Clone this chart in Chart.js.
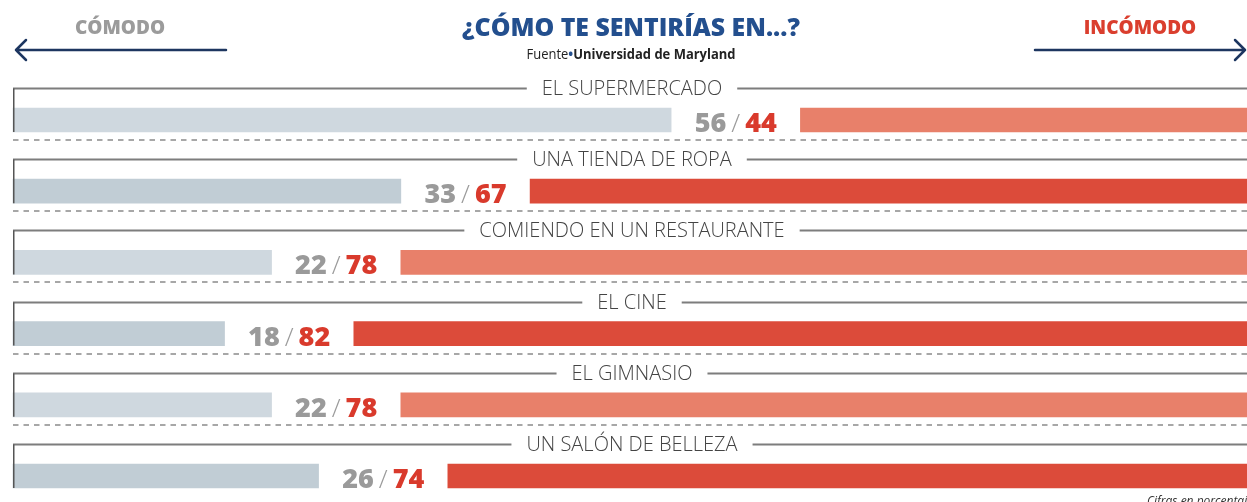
<!DOCTYPE html>
<html lang="es">
<head>
<meta charset="utf-8">
<title>¿Cómo te sentirías en...?</title>
<script src="https://cdn.jsdelivr.net/npm/chart.js@4.4.1/dist/chart.umd.min.js"></script>
<style>
  html, body { margin: 0; padding: 0; background: #fff; }
  #chart { display: block; }
</style>
</head>
<body>
<canvas id="chart" width="1247" height="502"></canvas>
<script>
// Datos (cifras en porcentaje)
const categories = ['EL SUPERMERCADO', 'UNA TIENDA DE ROPA', 'COMIENDO EN UN RESTAURANTE', 'EL CINE', 'EL GIMNASIO', 'UN SALÓN DE BELLEZA'];
const comodo = [56, 33, 22, 18, 22, 26];
const incomodo = [44, 67, 78, 82, 78, 74];

// hueco (en unidades de la escala) donde van las cifras
const GAP = 11;

const grayColors = ['#cfd8df', '#c1cdd5'];
const redColors = ['#e8806a', '#dc4b3a'];

const FONT = '"Open Sans", "DejaVu Sans", sans-serif';

const decorations = {
  id: 'decorations',
  beforeDatasetsDraw(chart) {
    const { ctx } = chart;
    const x = chart.scales.x;
    const y = chart.scales.y;
    const left = x.getPixelForValue(0);
    const right = chart.width;
    const midX = 632;

    ctx.save();
    // cabecera
    ctx.textBaseline = 'alphabetic';
    ctx.textAlign = 'center';
    ctx.fillStyle = '#234f8e';
    ctx.font = '800 25px ' + FONT;
    ctx.fillText('¿CÓMO TE SENTIRÍAS EN...?', 631, 36, 338);

    ctx.font = '800 19px ' + FONT;
    ctx.fillStyle = '#9b9b9b';
    ctx.fillText('CÓMODO', 120, 34, 96);
    ctx.fillStyle = '#da3e2e';
    ctx.fillText('INCÓMODO', 1140, 34, 120);

    // fuente
    const parts = [
      { t: 'Fuente', f: '400 14px ' + FONT, c: '#222' },
      { t: '•', f: '700 14px ' + FONT, c: '#234f8e' },
      { t: 'Universidad de Maryland', f: '700 14px ' + FONT, c: '#222' }
    ];
    ctx.textAlign = 'left';
    let total = 0;
    parts.forEach(p => { ctx.font = p.f; p.w = ctx.measureText(p.t).width; total += p.w; });
    const squeeze = Math.min(1, 209 / total);
    let sx = 631 - (total * squeeze) / 2;
    parts.forEach(p => {
      ctx.font = p.f; ctx.fillStyle = p.c;
      ctx.fillText(p.t, sx, 59, p.w * squeeze);
      sx += p.w * squeeze;
    });

    // flechas
    ctx.strokeStyle = '#1d3660';
    ctx.lineWidth = 2.5;
    ctx.lineCap = 'round';
    ctx.lineJoin = 'round';
    ctx.beginPath();
    ctx.moveTo(16, 50); ctx.lineTo(226, 50);
    ctx.moveTo(26, 40); ctx.lineTo(16, 50); ctx.lineTo(26, 60);
    ctx.moveTo(1035, 50); ctx.lineTo(1245, 50);
    ctx.moveTo(1235, 40); ctx.lineTo(1245, 50); ctx.lineTo(1235, 60);
    ctx.stroke();

    // filas
    categories.forEach((cat, i) => {
      const cy = y.getPixelForValue(i);
      const lineY = Math.round(cy - 32) + 0.5;
      ctx.font = '300 20px ' + FONT;
      const tw = ctx.measureText(cat).width;
      ctx.strokeStyle = '#7d7d7d';
      ctx.lineWidth = 2;
      ctx.lineCap = 'butt';
      ctx.beginPath();
      ctx.moveTo(left, lineY); ctx.lineTo(midX - tw / 2 - 15, lineY);
      ctx.moveTo(midX + tw / 2 + 15, lineY); ctx.lineTo(right, lineY);
      ctx.stroke();

      ctx.fillStyle = '#444';
      ctx.textAlign = 'center';
      ctx.textBaseline = 'middle';
      ctx.fillText(cat, midX, lineY + 1);

      if (i < categories.length - 1) {
        ctx.strokeStyle = '#8a8a8a';
        ctx.lineWidth = 1.5;
        ctx.setLineDash([5.5, 5]);
        ctx.beginPath();
        ctx.moveTo(left, Math.round(cy + 20));
        ctx.lineTo(right, Math.round(cy + 20));
        ctx.stroke();
        ctx.setLineDash([]);
      }
    });
    ctx.restore();
  },
  afterDatasetsDraw(chart) {
    const { ctx } = chart;
    const x = chart.scales.x;
    const y = chart.scales.y;
    const left = x.getPixelForValue(0);
    ctx.save();
    categories.forEach((cat, i) => {
      const cy = y.getPixelForValue(i);
      const lineY = Math.round(cy - 32) + 0.5;
      // trazo vertical a la izquierda
      ctx.strokeStyle = '#555';
      ctx.lineWidth = 1.5;
      ctx.beginPath();
      ctx.moveTo(left + 0.75, lineY);
      ctx.lineTo(left + 0.75, cy + 12);
      ctx.stroke();

      // cifras "56 / 44"
      const x0 = x.getPixelForValue(comodo[i]);
      const x1 = x.getPixelForValue(comodo[i] + GAP);
      const a = String(comodo[i]);
      const b = String(incomodo[i]);
      const numFont = '800 27px ' + FONT;
      const slashFont = '300 26px ' + FONT;
      ctx.font = numFont;
      const wa = ctx.measureText(a).width;
      const wb = ctx.measureText(b).width;
      ctx.font = slashFont;
      const ws = ctx.measureText('/').width;
      const pad = 5;
      const total = wa + ws + wb + pad * 2;
      let sx = (x0 + x1) / 2 - total / 2;
      const base = cy + 12;
      ctx.textAlign = 'left';
      ctx.textBaseline = 'alphabetic';
      ctx.font = numFont;
      ctx.fillStyle = '#9a9a9a';
      ctx.fillText(a, sx, base);
      sx += wa + pad;
      ctx.font = slashFont;
      ctx.fillStyle = '#9a9a9a';
      ctx.fillText('/', sx, base);
      sx += ws + pad;
      ctx.font = numFont;
      ctx.fillStyle = '#d93a2c';
      ctx.fillText(b, sx, base);
    });

    ctx.font = 'italic 400 12px ' + FONT;
    ctx.fillStyle = '#333';
    ctx.textAlign = 'left';
    ctx.textBaseline = 'alphabetic';
    ctx.fillText('Cifras en porcentaje', 1147, 505);
    ctx.restore();
  }
};

new Chart(document.getElementById('chart'), {
  type: 'bar',
  data: {
    labels: categories,
    datasets: [
      {
        label: 'Cómodo',
        data: comodo.map(v => [0, v]),
        backgroundColor: comodo.map((v, i) => grayColors[i % 2]),
        barThickness: 24,
        grouped: false,
        clip: false
      },
      {
        label: 'Incómodo',
        data: incomodo.map((v, i) => [comodo[i] + GAP, comodo[i] + GAP + v]),
        backgroundColor: incomodo.map((v, i) => redColors[i % 2]),
        barThickness: 24,
        grouped: false,
        clip: false
      }
    ]
  },
  options: {
    indexAxis: 'y',
    responsive: false,
    animation: false,
    layout: { padding: { left: 13, right: 0, top: 120, bottom: 26 } },
    scales: {
      x: { display: false, min: 0, max: 105 },
      y: { display: false, offset: false }
    },
    plugins: {
      legend: { display: false },
      tooltip: { enabled: false }
    }
  },
  plugins: [decorations]
});
</script>
</body>
</html>
